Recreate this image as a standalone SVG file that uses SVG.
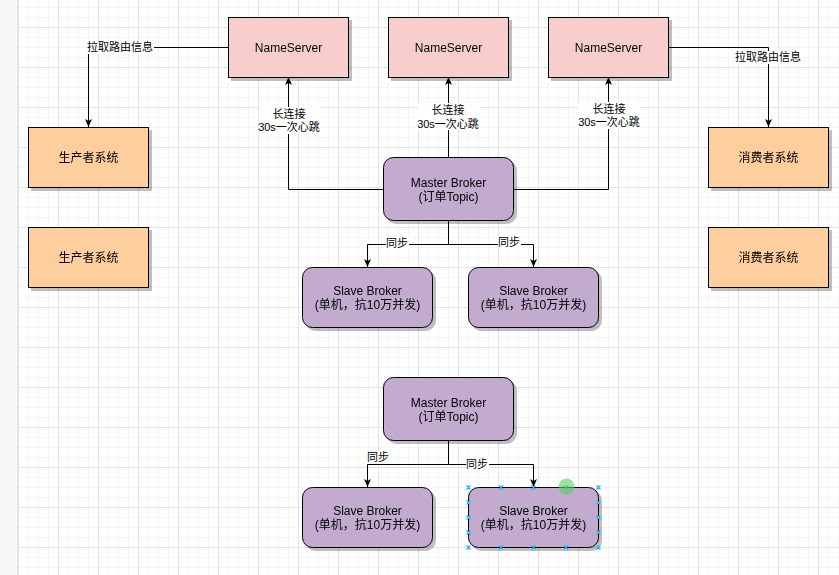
<svg xmlns="http://www.w3.org/2000/svg" width="839" height="575" viewBox="0 0 839 575">
<defs>
<pattern id="grid" x="18" y="27" width="40" height="40" patternUnits="userSpaceOnUse">
<rect width="40" height="40" fill="#ffffff"/>
<path d="M10.5,0V40M20.5,0V40M30.5,0V40M0,10.5H40M0,20.5H40M0,30.5H40" stroke="#f5f5f5" stroke-width="1" fill="none"/>
<path d="M0.5,0V40M0,0.5H40" stroke="#e3e3e3" stroke-width="1" fill="none"/>
</pattern>
<marker id="arr" viewBox="0 0 8 7" refX="8" refY="3.5" markerWidth="8" markerHeight="7" markerUnits="userSpaceOnUse" orient="auto">
<path d="M0,0 L8,3.5 L0,7 L2,3.5 Z" fill="#000"/>
</marker>
<filter id="sh" x="-10%" y="-10%" width="130%" height="130%">
<feOffset in="SourceAlpha" dx="3" dy="3" result="o"/>
<feColorMatrix in="o" type="matrix" values="0 0 0 0 0  0 0 0 0 0  0 0 0 0 0  0 0 0 0.25 0" result="c"/>
<feMerge><feMergeNode in="c"/><feMergeNode in="SourceGraphic"/></feMerge>
</filter>
</defs>
<style>
.ns{fill:#f8cecc;stroke:#000;stroke-width:1}
.sys{fill:#ffce9f;stroke:#000;stroke-width:1}
.br{fill:#c3abd0;stroke:#000;stroke-width:1}
text{font-family:"Liberation Sans","Noto Sans CJK SC",sans-serif;fill:#000;text-anchor:middle}
.t12{font-size:12px}
.t11{font-size:11px}
.edge{fill:none;stroke:#000;stroke-width:1}
.lbl{fill:#fff}
.h{stroke:#29b6f2;stroke-width:1.4;fill:none}
</style>

<rect x="0" y="0" width="839" height="575" fill="url(#grid)"/>
<rect x="0" y="0" width="17" height="575" fill="#f7f8fa"/>
<path d="M17.5,0V575" stroke="#e6e6e6"/>

<g id="edges">
<path class="edge" d="M228,47.5H88.5V127" marker-end="url(#arr)"/>
<path class="edge" d="M668,47.5H768.5V127" marker-end="url(#arr)"/>
<path class="edge" d="M383,189.5H288.5V77" marker-end="url(#arr)"/>
<path class="edge" d="M448.5,157V77" marker-end="url(#arr)"/>
<path class="edge" d="M513,189.5H608.5V77" marker-end="url(#arr)"/>
<path class="edge" d="M448.5,221V244.5H367.5V267" marker-end="url(#arr)"/>
<path class="edge" d="M448.5,244.5H533.5V267" marker-end="url(#arr)"/>
<path class="edge" d="M448.5,441V464.5H367.5V487" marker-end="url(#arr)"/>
<path class="edge" d="M448.5,464.5H533.5V487" marker-end="url(#arr)"/>

<rect class="lbl" x="87" y="41" width="67" height="13"/>
<text class="t11" x="120" y="51">拉取路由信息</text>
<rect class="lbl" x="735" y="51" width="67" height="13"/>
<text class="t11" x="768" y="61">拉取路由信息</text>

<rect class="lbl" x="259" y="107" width="62" height="27"/>
<text class="t11" x="289" y="118">长连接</text>
<text class="t11" x="289" y="131">30s一次心跳</text>
<rect class="lbl" x="418" y="103" width="62" height="27"/>
<text class="t11" x="448" y="114">长连接</text>
<text class="t11" x="448" y="128">30s一次心跳</text>
<rect class="lbl" x="578" y="102" width="62" height="27"/>
<text class="t11" x="609" y="113">长连接</text>
<text class="t11" x="609" y="126">30s一次心跳</text>

<rect class="lbl" x="386" y="237" width="23" height="12"/>
<text class="t11" x="397" y="247">同步</text>
<rect class="lbl" x="498" y="236" width="23" height="12"/>
<text class="t11" x="509" y="246">同步</text>
<rect class="lbl" x="367" y="451" width="23" height="12"/>
<text class="t11" x="378" y="461">同步</text>
<rect class="lbl" x="466" y="458" width="23" height="12"/>
<text class="t11" x="477" y="468">同步</text>
</g>

<g id="ns1" filter="url(#sh)">
<rect class="ns" x="228.5" y="17.5" width="120" height="60"/>
<text class="t12" x="288.5" y="51.5">NameServer</text>
</g>
<g id="ns2" filter="url(#sh)">
<rect class="ns" x="388.5" y="17.5" width="120" height="60"/>
<text class="t12" x="448.5" y="51.5">NameServer</text>
</g>
<g id="ns3" filter="url(#sh)">
<rect class="ns" x="548.5" y="17.5" width="120" height="60"/>
<text class="t12" x="608.5" y="51.5">NameServer</text>
</g>

<g id="producer1" filter="url(#sh)">
<rect class="sys" x="28.5" y="127.5" width="120" height="60"/>
<text class="t12" x="88.5" y="162">生产者系统</text>
</g>
<g id="producer2" filter="url(#sh)">
<rect class="sys" x="28.5" y="227.5" width="120" height="60"/>
<text class="t12" x="88.5" y="262">生产者系统</text>
</g>
<g id="consumer1" filter="url(#sh)">
<rect class="sys" x="708.5" y="127.5" width="120" height="60"/>
<text class="t12" x="768.5" y="162">消费者系统</text>
</g>
<g id="consumer2" filter="url(#sh)">
<rect class="sys" x="708.5" y="227.5" width="120" height="60"/>
<text class="t12" x="768.5" y="262">消费者系统</text>
</g>

<g id="master1" filter="url(#sh)">
<rect class="br" x="383.5" y="157.5" width="130" height="63" rx="10"/>
<text class="t12" x="448.5" y="187">Master Broker</text>
<text class="t12" x="448.5" y="201">(订单Topic)</text>
</g>
<g id="slave1" filter="url(#sh)">
<rect class="br" x="302.5" y="267.5" width="130" height="60" rx="10"/>
<text class="t12" x="367.5" y="295">Slave Broker</text>
<text class="t12" x="367.5" y="309">(单机，抗10万并发)</text>
</g>
<g id="slave2" filter="url(#sh)">
<rect class="br" x="468.5" y="267.5" width="130" height="60" rx="10"/>
<text class="t12" x="533.5" y="295">Slave Broker</text>
<text class="t12" x="533.5" y="309">(单机，抗10万并发)</text>
</g>

<g id="master2" filter="url(#sh)">
<rect class="br" x="383.5" y="377.5" width="130" height="63" rx="10"/>
<text class="t12" x="448.5" y="407">Master Broker</text>
<text class="t12" x="448.5" y="421">(订单Topic)</text>
</g>
<g id="slave3" filter="url(#sh)">
<rect class="br" x="302.5" y="487.5" width="130" height="60" rx="10"/>
<text class="t12" x="367.5" y="515">Slave Broker</text>
<text class="t12" x="367.5" y="529">(单机，抗10万并发)</text>
</g>
<g id="slave4" filter="url(#sh)">
<rect class="br" x="468.5" y="487.5" width="130" height="60" rx="10"/>
<text class="t12" x="533.5" y="515">Slave Broker</text>
<text class="t12" x="533.5" y="529">(单机，抗10万并发)</text>
</g>

<g id="selection">
<path class="h" d="M466.5,485.5l4,4m0,-4l-4,4M499,485.5l4,4m0,-4l-4,4M531.5,485.5l4,4m0,-4l-4,4M564,485.5l4,4m0,-4l-4,4M596.5,485.5l4,4m0,-4l-4,4
M466.5,545.5l4,4m0,-4l-4,4M499,545.5l4,4m0,-4l-4,4M531.5,545.5l4,4m0,-4l-4,4M564,545.5l4,4m0,-4l-4,4M596.5,545.5l4,4m0,-4l-4,4
M466.5,500.5l4,4m0,-4l-4,4M466.5,515.5l4,4m0,-4l-4,4M466.5,530.5l4,4m0,-4l-4,4
M596.5,500.5l4,4m0,-4l-4,4M596.5,515.5l4,4m0,-4l-4,4M596.5,530.5l4,4m0,-4l-4,4"/>
<circle cx="566.5" cy="486.5" r="8" fill="#5ccf5c" fill-opacity="0.6"/>
</g>
</svg>
